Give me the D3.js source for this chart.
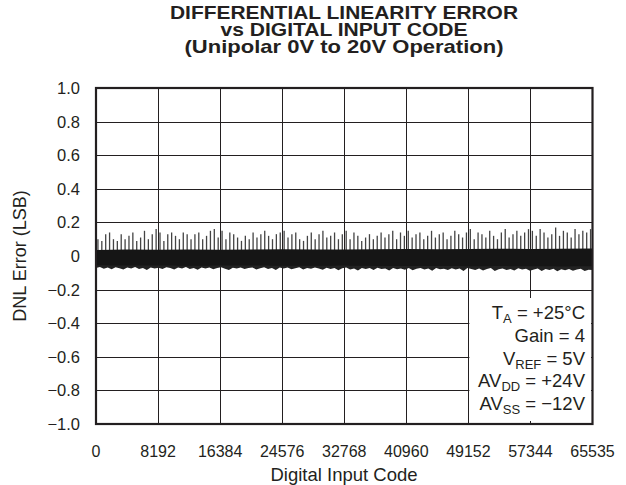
<!DOCTYPE html>
<html><head><meta charset="utf-8">
<script src="https://cdn.jsdelivr.net/npm/d3@7"></script>
<style>
html,body{margin:0;padding:0;background:#fff;}
svg{display:block;font-family:"Liberation Sans",Arial,Helvetica,sans-serif;}
</style></head>
<body><svg id="c" width="626" height="485"></svg>
<script>
const titleLines = ["DIFFERENTIAL LINEARITY ERROR","vs DIGITAL INPUT CODE","(Unipolar 0V to 20V Operation)"];
const xTicks = [0,8192,16384,24576,32768,40960,49152,57344,65535];
const yTicks = [1.0,0.8,0.6,0.4,0.2,0,-0.2,-0.4,-0.6,-0.8,-1.0];
const yTickLabels = ["1.0","0.8","0.6","0.4","0.2","0","\u22120.2","\u22120.4","\u22120.6","\u22120.8","\u22121.0"];
const xTitle = "Digital Input Code";
const yTitle = "DNL Error (LSB)";
// spike maxima, one every 512 codes (LSB)
const spikeMax = [
0.10,0.09,0.13,0.14,0.10,0.09,0.13,0.10,0.12,0.14,0.09,0.11,0.15,0.10,0.13,0.16,
0.14,0.09,0.13,0.14,0.12,0.10,0.14,0.13,0.10,0.13,0.14,0.10,0.12,0.15,0.16,0.11,
0.15,0.10,0.14,0.13,0.11,0.09,0.12,0.10,0.14,0.11,0.13,0.15,0.12,0.10,0.13,0.14,
0.15,0.11,0.13,0.14,0.10,0.09,0.12,0.14,0.10,0.13,0.15,0.11,0.12,0.14,0.10,0.13,
0.15,0.10,0.14,0.12,0.09,0.11,0.13,0.10,0.12,0.14,0.11,0.13,0.15,0.10,0.14,0.12,
0.15,0.11,0.13,0.14,0.10,0.12,0.15,0.11,0.13,0.14,0.10,0.12,0.15,0.13,0.11,0.14,
0.16,0.10,0.14,0.13,0.11,0.15,0.12,0.10,0.14,0.16,0.11,0.13,0.15,0.12,0.14,0.16,
0.15,0.12,0.16,0.14,0.11,0.13,0.17,0.12,0.15,0.14,0.11,0.16,0.13,0.15,0.14,0.16];
// upper edge of the dense noise band, every 4096 codes
const bandTop = [0.036,0.038,0.037,0.039,0.037,0.038,0.040,0.039,0.038,0.040,0.041,0.040,0.041,0.043,0.042,0.043,0.044];
// solid lower edge of the noise band, every 4096 codes
const bandBottom = [-0.060,-0.062,-0.061,-0.063,-0.062,-0.061,-0.063,-0.063,-0.062,-0.064,-0.065,-0.064,-0.066,-0.065,-0.066,-0.067,-0.066];
// ragged lower fringe, every 512 codes
const fringeMin = [
-0.072,-0.066,-0.076,-0.068,-0.079,-0.067,-0.073,-0.081,-0.069,-0.075,-0.066,-0.077,-0.071,-0.083,-0.068,-0.074,
-0.070,-0.078,-0.067,-0.072,-0.080,-0.068,-0.074,-0.066,-0.077,-0.071,-0.082,-0.068,-0.075,-0.069,-0.079,-0.072,
-0.067,-0.076,-0.083,-0.070,-0.074,-0.068,-0.078,-0.072,-0.068,-0.080,-0.073,-0.067,-0.077,-0.071,-0.084,-0.069,
-0.075,-0.068,-0.079,-0.073,-0.067,-0.081,-0.071,-0.076,-0.069,-0.074,-0.082,-0.070,-0.077,-0.072,-0.085,-0.073,
-0.069,-0.080,-0.074,-0.086,-0.071,-0.077,-0.072,-0.083,-0.070,-0.078,-0.075,-0.087,-0.072,-0.079,-0.074,-0.082,
-0.071,-0.085,-0.076,-0.072,-0.081,-0.074,-0.088,-0.072,-0.079,-0.076,-0.084,-0.073,-0.080,-0.075,-0.089,-0.072,
-0.078,-0.083,-0.074,-0.086,-0.077,-0.072,-0.090,-0.079,-0.075,-0.084,-0.078,-0.087,-0.073,-0.081,-0.076,-0.088,
-0.080,-0.075,-0.089,-0.078,-0.083,-0.076,-0.091,-0.079,-0.085,-0.077,-0.088,-0.081,-0.076,-0.090,-0.082,-0.084];
const legendLines = [
  [["T",""],["A","sub"],[" = +25\u00B0C",""]],
  [["Gain = 4",""]],
  [["V",""],["REF","sub"],[" = 5V",""]],
  [["AV",""],["DD","sub"],[" = +24V",""]],
  [["AV",""],["SS","sub"],[" = \u221212V",""]]
];

const svg = d3.select("#c");
const ink = "#231f20";
const x = d3.scaleLinear().domain([0,65535]).range([96,592.5]);
const y = d3.scaleLinear().domain([-1,1]).range([424,88]);

svg.append("rect").attr("width",626).attr("height",485).attr("fill","#fff");

// title (one text block, three lines)
const titleW = [348,247,319];
svg.append("text").attr("y",19).attr("text-anchor","middle")
  .attr("font-weight","bold").attr("font-size",18.5).attr("fill",ink)
  .selectAll("tspan").data(titleLines).join("tspan")
  .attr("x",344).attr("dy",(d,i)=>i===0?0:17)
  .attr("textLength",(d,i)=>titleW[i]).attr("lengthAdjust","spacingAndGlyphs").text(d=>d);

// grid
const grid = svg.append("g").attr("stroke",ink).attr("stroke-width",1);
grid.selectAll("line.v").data(xTicks.slice(1,-1)).join("line")
  .attr("x1",d=>Math.round(x(d))+0.5).attr("x2",d=>Math.round(x(d))+0.5)
  .attr("y1",y(1)).attr("y2",y(-1));
grid.selectAll("line.h").data(yTicks.slice(1,-1)).join("line")
  .attr("y1",d=>Math.round(y(d))+0.5).attr("y2",d=>Math.round(y(d))+0.5)
  .attr("x1",x(0)).attr("x2",x(65535));

// data: spikes
const spikeStep = 65536/spikeMax.length;
svg.append("g").attr("stroke","#444").attr("stroke-width",1.3)
  .selectAll("line").data(spikeMax).join("line")
  .attr("x1",(d,i)=>x(i*spikeStep+spikeStep*0.5)).attr("x2",(d,i)=>x(i*spikeStep+spikeStep*0.5))
  .attr("y1",y(0)).attr("y2",d=>y(d));

// dense band
const bandStep = 65535/(bandTop.length-1);
const band = d3.area().x((d,i)=>x(i*bandStep)).y0((d,i)=>y(bandBottom[i])).y1(d=>y(d));
svg.append("path").datum(bandTop).attr("d",band).attr("fill","#151515");

// lower fringe
const fringeStep = 65535/(fringeMin.length-1);
const bottomAt = c => { const t=c/bandStep, i=Math.min(Math.floor(t),bandBottom.length-2), f=t-i; return bandBottom[i]*(1-f)+bandBottom[i+1]*f; };
const fr = d3.area().x((d,i)=>x(i*fringeStep)).y0(d=>y(d)).y1((d,i)=>y(bottomAt(i*fringeStep)+0.005));
svg.append("path").datum(fringeMin).attr("d",fr).attr("fill","#222");

// legend box
const lg = svg.append("g");
lg.append("rect").attr("x",x(49152)+1).attr("y",298).attr("width",x(65535)-x(49152)-2.5).attr("height",123).attr("fill","#fff");
lg.selectAll("text").data(legendLines).join("text")
  .attr("x",585).attr("y",(d,i)=>319+i*22.8).attr("text-anchor","end")
  .attr("font-size",18.5).attr("fill",ink)
  .each(function(parts){
    const t=d3.select(this); let shifted=false;
    parts.forEach(([s,k])=>{
      const sp=t.append("tspan").text(s);
      if(k==="sub"){sp.attr("font-size",13).attr("dy",4);shifted=true;}
      else if(shifted){sp.attr("dy",-4);shifted=false;}
    });
  });

// frame
svg.append("rect").attr("x",x(0)).attr("y",y(1)).attr("width",x(65535)-x(0)).attr("height",y(-1)-y(1))
  .attr("fill","none").attr("stroke",ink).attr("stroke-width",2.2);

// axes labels
svg.append("g").selectAll("text").data(yTicks).join("text")
  .attr("x",80).attr("y",d=>y(d)+6).attr("text-anchor","end").attr("font-size",16.5).attr("fill",ink)
  .text((d,i)=>yTickLabels[i]);
svg.append("g").selectAll("text").data(xTicks).join("text")
  .attr("x",d=>x(d)).attr("y",457).attr("text-anchor","middle").attr("font-size",16).attr("fill",ink)
  .text(d=>String(d));
svg.append("text").attr("x",344).attr("y",481).attr("text-anchor","middle").attr("font-size",18.5).attr("fill",ink).text(xTitle);
svg.append("text").attr("transform","translate(26,256) rotate(-90)").attr("text-anchor","middle").attr("font-size",18).attr("fill",ink).text(yTitle);
</script></body></html>
